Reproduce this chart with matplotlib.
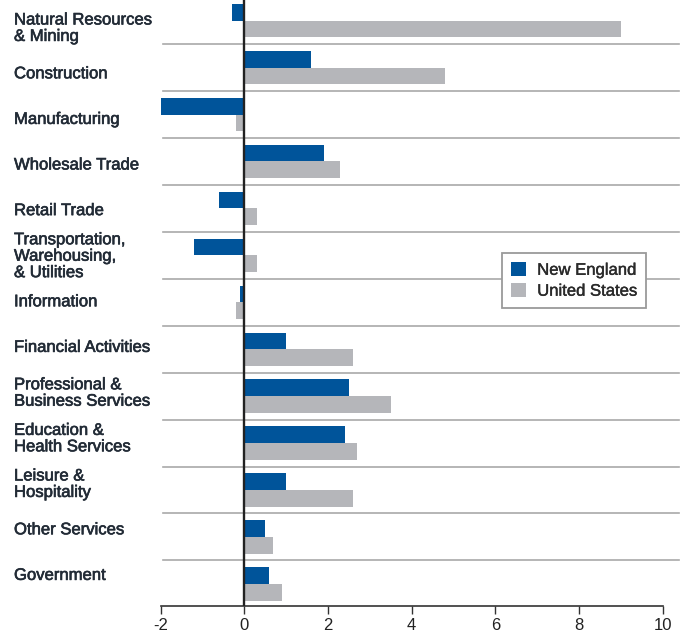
import matplotlib
matplotlib.use("Agg")
import matplotlib.pyplot as plt
import matplotlib.patheffects as pe
import numpy as np
from matplotlib import transforms

categories = [
    "Natural Resources\n& Mining",
    "Construction",
    "Manufacturing",
    "Wholesale Trade",
    "Retail Trade",
    "Transportation,\nWarehousing,\n& Utilities",
    "Information",
    "Financial Activities",
    "Professional &\nBusiness Services",
    "Education &\nHealth Services",
    "Leisure &\nHospitality",
    "Other Services",
    "Government",
]
new_england = [-0.3, 1.6, -2.0, 1.9, -0.6, -1.2, -0.1, 1.0, 2.5, 2.4, 1.0, 0.5, 0.6]
united_states = [9.0, 4.8, -0.2, 2.3, 0.3, 0.3, -0.2, 2.6, 3.5, 2.7, 2.6, 0.7, 0.9]
x_ticks = [-2, 0, 2, 4, 6, 8, 10]
series_names = ["New England", "United States"]

plt.rcParams["font.family"] = ["Liberation Sans", "DejaVu Sans"]
plt.rcParams["axes.unicode_minus"] = False

W, H = 685, 635
fig = plt.figure(figsize=(W / 100, H / 100), dpi=100)
ax = fig.add_axes([160.5 / W, 29.3 / H, 502.2 / W, 605.7 / H])

n = len(categories)
y = np.arange(n)
h = 0.356
ax.barh(y - h / 2, new_england, height=h, color="#00549a", label=series_names[0], zorder=2)
ax.barh(y + h / 2, united_states, height=h, color="#b5b6ba", label=series_names[1], zorder=2)

ax.set_xlim(-2, 10)
ax.set_ylim(n - 1 + 0.465, -0.441)

# separators between categories
x0 = (163 - 160.5) / 502.2
x1 = (679 - 160.5) / 502.2
for i in range(n - 1):
    ax.axhline(i + 0.5, xmin=x0, xmax=x1, color="#a9a9a9", lw=1.2, clip_on=False, zorder=1)

# zero line
ax.axvline(0, color="#222222", lw=1.7, zorder=3)

for s in ["top", "right", "left"]:
    ax.spines[s].set_visible(False)
ax.spines["bottom"].set_color("#333333")
ax.spines["bottom"].set_linewidth(1.2)
ax.set_yticks([])
ax.set_xticks(x_ticks)
ax.set_xticklabels([str(t) for t in x_ticks])
ax.tick_params(axis="x", direction="out", length=6, width=1, color="#333333",
               labelsize=12, labelcolor="#222222", pad=2.5)

thick = [pe.withStroke(linewidth=0.45, foreground="#222b36")]

# category labels
trans = transforms.blended_transform_factory(ax.transAxes, ax.transData)
label_x = (14 - 160.5) / 502.2
for i, cat in enumerate(categories):
    ax.text(label_x, 0.16 + i * 0.9716, cat, transform=trans, ha="left", va="center",
            fontsize=12, color="#222b36", linespacing=1.12, path_effects=thick)

leg = ax.legend(loc="upper left", bbox_to_anchor=(501.7 / W, 1 - 252.7 / H),
                bbox_transform=fig.transFigure, frameon=True, fancybox=False,
                edgecolor="#9a9a9a", framealpha=1, fontsize=12, handlelength=0.93,
                handleheight=0.95, handletextpad=0.65, labelspacing=0.3,
                borderpad=0.55, borderaxespad=0)
leg.get_frame().set_linewidth(1.3)
for t in leg.get_texts():
    t.set_color("#2a2a2a")
    t.set_path_effects([pe.withStroke(linewidth=0.3, foreground="#2a2a2a")])

fig.savefig("out.png", dpi=100)
